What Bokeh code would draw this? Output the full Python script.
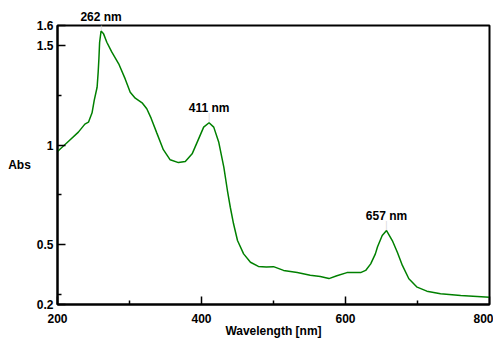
from bokeh.plotting import figure
from bokeh.models import FixedTicker, Label, Range1d
from bokeh.embed import file_html
from bokeh.resources import INLINE

wavelength = [200, 215, 229, 238, 243, 248, 251, 255, 256.5, 257.5, 258.5, 260.5, 264, 268.5,
              275.5, 285, 294, 301, 308, 318, 324, 330, 338, 347, 356.5, 368, 377.5, 387, 396,
              403, 410.5, 417, 424, 431, 436, 440, 444.5, 450, 458.5, 468, 479, 490, 500, 514,
              533, 551, 565, 577, 588, 602, 621, 628, 635, 641.5, 644.5, 651, 657, 665, 672,
              679, 688, 699.5, 713, 732, 760, 800]
absorbance = [0.968, 1.018, 1.065, 1.105, 1.115, 1.162, 1.224, 1.29, 1.366, 1.433, 1.516, 1.572,
              1.558, 1.516, 1.466, 1.408, 1.332, 1.265, 1.235, 1.21, 1.182, 1.135, 1.06, 0.977,
              0.926, 0.912, 0.918, 0.956, 1.031, 1.09, 1.112, 1.09, 1.014, 0.889, 0.772, 0.688,
              0.605, 0.521, 0.454, 0.412, 0.391, 0.388, 0.39, 0.371, 0.361, 0.347, 0.34, 0.33,
              0.344, 0.36, 0.36, 0.371, 0.404, 0.454, 0.49, 0.546, 0.571, 0.521, 0.462, 0.396,
              0.329, 0.287, 0.267, 0.254, 0.245, 0.237]

peak_wl = [261, 410.5, 657]
peak_abs = [1.572, 1.112, 0.571]
peak_text = ["262 nm", "411 nm", "657 nm"]

x_ticks = [200, 400, 600, 800]
x_minor = [300, 500, 700]
y_ticks = [0.2, 0.5, 1.0, 1.5, 1.6]
y_minor = [0.25, 0.75, 1.25]
y_tick_labels = {0.2: "0.2", 0.5: "0.5", 1.0: "1", 1.5: "1.5", 1.6: "1.6"}

FONT = "Liberation Sans"
X0, X1 = 200, 800
FRAME_W = 432

p = figure(width=493, height=341, output_backend="svg", toolbar_location=None,
           x_range=Range1d(X0, X1), y_range=Range1d(0.2, 1.6),
           min_border_left=57, min_border_right=4, min_border_top=25, min_border_bottom=37)
p.background_fill_color = "white"
p.border_fill_color = "white"
p.outline_line_color = "black"
p.outline_line_width = 2
p.xgrid.visible = False
p.ygrid.visible = False

p.line(wavelength, absorbance, line_color="#008000", line_width=1.5)

for ax in (p.xaxis[0], p.yaxis[0]):
    ax.axis_line_width = 2
    ax.axis_line_color = "black"
    ax.major_tick_in = 8
    ax.major_tick_out = 0
    ax.minor_tick_in = 4
    ax.minor_tick_out = 0
    ax.major_tick_line_width = 1.5
    ax.minor_tick_line_width = 1.5
    ax.major_label_text_font = FONT
    ax.major_label_text_font_style = "bold"
    ax.major_label_text_font_size = "12px"
    ax.major_label_text_color = "black"
    ax.axis_label_text_font = FONT
    ax.axis_label_text_font_style = "bold"
    ax.axis_label_text_font_size = "12px"
    ax.axis_label_text_color = "black"

p.xaxis[0].ticker = FixedTicker(ticks=x_ticks, minor_ticks=x_minor)
p.yaxis[0].ticker = FixedTicker(ticks=y_ticks, minor_ticks=y_minor)
p.yaxis[0].major_label_overrides = y_tick_labels
p.xaxis[0].major_label_standoff = 9
p.yaxis[0].major_label_standoff = 4
p.xaxis[0].axis_label = "Wavelength [nm]"
p.xaxis[0].axis_label_standoff = -2
p.yaxis[0].axis_label = "Abs"
p.yaxis[0].axis_label_orientation = "horizontal"
p.yaxis[0].axis_label_standoff = 3

# the first peak's label sits above the plot frame, so it is drawn as the title
first_px = (peak_wl[0] - X0) / (X1 - X0) * FRAME_W
p.title.text = peak_text[0]
p.title.align = "left"
p.title.offset = first_px - 21
p.title.standoff = 3
p.title.text_font = FONT
p.title.text_font_style = "bold"
p.title.text_font_size = "12px"
p.title.text_color = "black"

for wl, ab, txt in zip(peak_wl[1:], peak_abs[1:], peak_text[1:]):
    p.add_layout(Label(x=wl, y=ab, text=txt, y_offset=8, text_align="center",
                       text_baseline="bottom", text_font=FONT, text_font_style="bold",
                       text_font_size="12px", text_color="black"))
for wl, ab in zip(peak_wl, peak_abs):
    p.add_layout(Label(x=wl, y=ab, text="|", y_offset=1, text_align="center",
                       text_baseline="bottom", text_font=FONT,
                       text_font_size="9px", text_color="#d8d8d8"))

open("out.html", "w").write(file_html(p, INLINE))
